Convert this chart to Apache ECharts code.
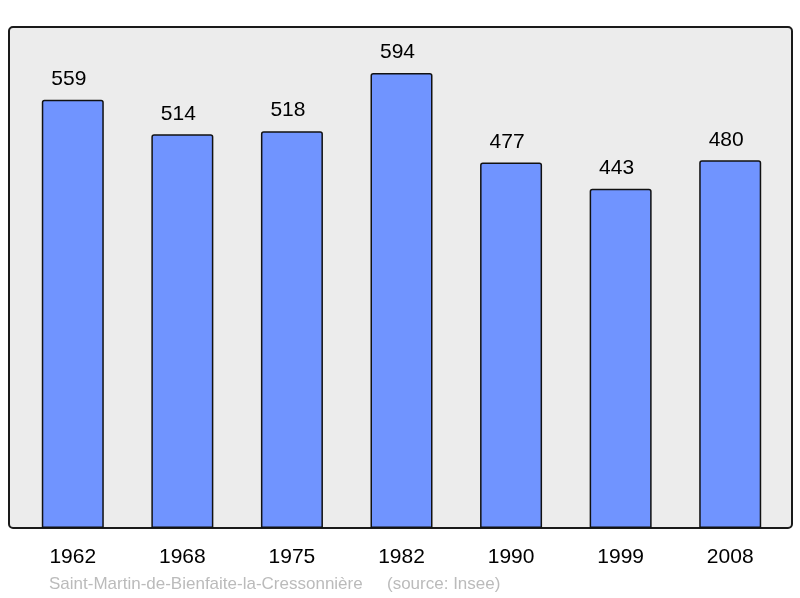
<!DOCTYPE html>
<html>
<head>
<meta charset="utf-8">
<script src="https://cdn.jsdelivr.net/npm/echarts@6/dist/echarts.min.js"></script>
<style>
  html, body { margin: 0; padding: 0; background: #fff; }
  #chart { width: 800px; height: 598px; }
</style>
</head>
<body>
<div id="chart"></div>
<script>
// recensements
var years = ["1962", "1968", "1975", "1982", "1990", "1999", "2008"];
var population = [559, 514, 518, 594, 477, 443, 480];
var commune = "Saint-Martin-de-Bienfaite-la-Cressonnière";
var source = "(source: Insee)";

var myChart = echarts.init(document.getElementById("chart"));

myChart.setOption({
    animation: false,
    textStyle: { fontFamily: "Liberation Sans, Arial, sans-serif" },
    graphic: [
        {
            type: "rect",
            z: -10,
            shape: { x: 9, y: 27, width: 783, height: 501, r: 4 },
            style: { fill: "#ececec", stroke: "#1a1a1a", lineWidth: 2 }
        },
        {
            type: "text",
            left: 49,
            top: 576,
            style: { text: commune, fill: "#bbbbbb", font: "17px Liberation Sans, Arial, sans-serif" }
        },
        {
            type: "text",
            left: 387,
            top: 576,
            style: { text: source, fill: "#bbbbbb", font: "17px Liberation Sans, Arial, sans-serif" }
        }
    ],
    grid: { left: 18, right: 15, top: 27, bottom: 70 },
    xAxis: {
        type: "category",
        data: years,
        axisLine: { show: false },
        axisTick: { show: false },
        axisLabel: { color: "#000", fontSize: 21, margin: 19 }
    },
    yAxis: {
        type: "value",
        min: 0,
        max: 654,
        show: false,
        splitLine: { show: false }
    },
    series: [{
        type: "bar",
        data: population,
        barWidth: 62,
        itemStyle: {
            color: "#7094ff",
            borderColor: "#111",
            borderWidth: 1.5,
            borderRadius: [2, 2, 0, 0]
        },
        label: {
            show: true,
            position: "top",
            distance: 10,
            offset: [-4, 0],
            color: "#000",
            fontSize: 21
        }
    }]
});
</script>
</body>
</html>
